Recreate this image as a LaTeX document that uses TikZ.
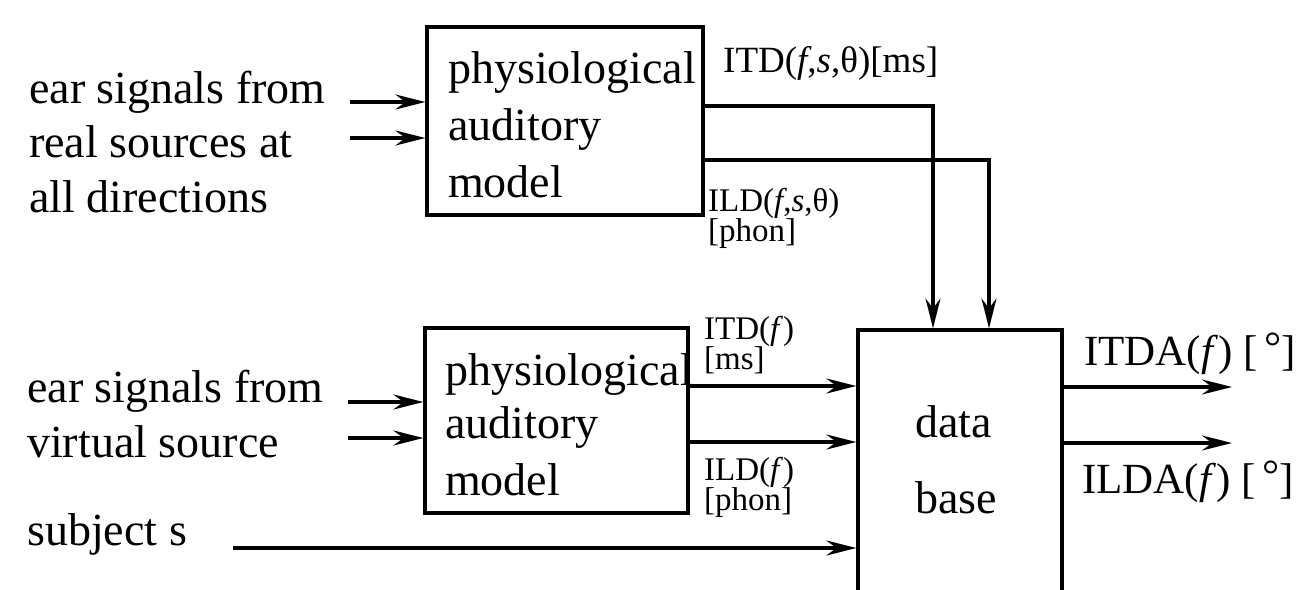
\documentclass[tikz,border=0pt]{standalone}
\usepackage{fontspec}
\setmainfont{Liberation Serif}
\usetikzlibrary{arrows.meta}

\newcommand{\bigtxt}{\fontsize{46}{55}\selectfont}
\newcommand{\lbltxt}{\fontsize{37}{42}\selectfont}
\newcommand{\pairtxt}{\fontsize{33}{30}\selectfont\lineskiplimit=-60pt}

\tikzset{
  block/.style={draw, line width=3.2pt, rectangle, inner sep=0pt},
  txt/.style={anchor=base west, inner sep=0pt, font=\bigtxt},
  lbl/.style={anchor=base west, inner sep=0pt, font=\lbltxt},
  % two-line label, anchored at the baseline of its second line
  pair/.style={anchor=base west, inner sep=0pt, font=\pairtxt, align=left},
  arr/.style={line width=3.2pt, -{Stealth[length=30pt,width=15pt,inset=10pt]}},
}

\begin{document}
\begin{tikzpicture}[x=1pt,y=-1pt]
\useasboundingbox (0,0) rectangle (1303,589);

% processing blocks
\node[block, minimum width=276pt, minimum height=188pt] (ubox) at (565,121) {};
\node[block, minimum width=263pt, minimum height=185pt] (lbox) at (556.5,420.5) {};
\node[block, minimum width=204pt, minimum height=300pt] (dbox) at (960,480) {};

% text inside the blocks
\node[txt] (u1) at (448,83) {physiological};
\node[txt] (u2) at (448,140) {auditory};
\node[txt] (u3) at (448,197) {model};
\node[txt] (l1) at (445,385) {physiological};
\node[txt] (l2) at (445,438) {auditory};
\node[txt] (l3) at (445,495) {model};
\node[txt] (d1) at (915,437) {data};
\node[txt] (d2) at (915,513) {base};

% input descriptions
\node[txt] (r1) at (29,103) {ear signals from};
\node[txt] (r2) at (29,157) {real sources at};
\node[txt] (r3) at (29,212) {all directions};
\node[txt] (v1) at (27,402) {ear signals from};
\node[txt] (v2) at (27,457) {virtual source};
\node[txt] (s1) at (27,545) {subject s};

% output labels
\node[lbl] (itd1) at (723,72) {ITD(\textit{f},\textit{s},θ)[ms]};
\node[pair] (ild1) at (708,241) {ILD(\textit{f},\textit{s},θ)\\{[phon]}};
\node[pair] (itd2) at (704,369) {ITD(\textit{f})\\{[ms]}};
\node[pair] (ild2) at (704,510) {ILD(\textit{f})\\{[phon]}};
\node[txt, font=\fontsize{43}{50}\selectfont] (itda) at (1084,365) {ITDA(\textit{f}) [\,\raisebox{4pt}{°}]};
\node[txt, font=\fontsize{43}{50}\selectfont] (ilda) at (1082,493) {ILDA(\textit{f}) [\,\raisebox{4pt}{°}]};

% connector anchor points
\coordinate (a1) at (350,102);
\coordinate (a2) at (350,138);
\coordinate (b1) at (348,402);
\coordinate (b2) at (348,438);
\coordinate (sub) at (233,548);
\coordinate (itdy) at (0,106);
\coordinate (ildy) at (0,160);
\coordinate (itdx) at (933,0);
\coordinate (ildx) at (989,0);
\coordinate (o1) at (1232,387);
\coordinate (o2) at (1232,443);

% ear signal inputs
\draw[arr] (a1) -- (ubox.west |- a1);
\draw[arr] (a2) -- (ubox.west |- a2);
\draw[arr] (b1) -- (lbox.west |- b1);
\draw[arr] (b2) -- (lbox.west |- b2);
\draw[arr] (sub) -- (dbox.west |- sub);

% reference cues into the data base
\draw[arr] (ubox.east |- itdy) -| (dbox.north -| itdx);
\draw[arr] (ubox.east |- ildy) -| (dbox.north -| ildx);

% cues of the virtual source
\draw[arr] (lbox.east |- 0,386) -- (dbox.west |- 0,386);
\draw[arr] (lbox.east |- 0,442) -- (dbox.west |- 0,442);

% outputs
\draw[arr] (dbox.east |- o1) -- (o1);
\draw[arr] (dbox.east |- o2) -- (o2);
\end{tikzpicture}
\end{document}
